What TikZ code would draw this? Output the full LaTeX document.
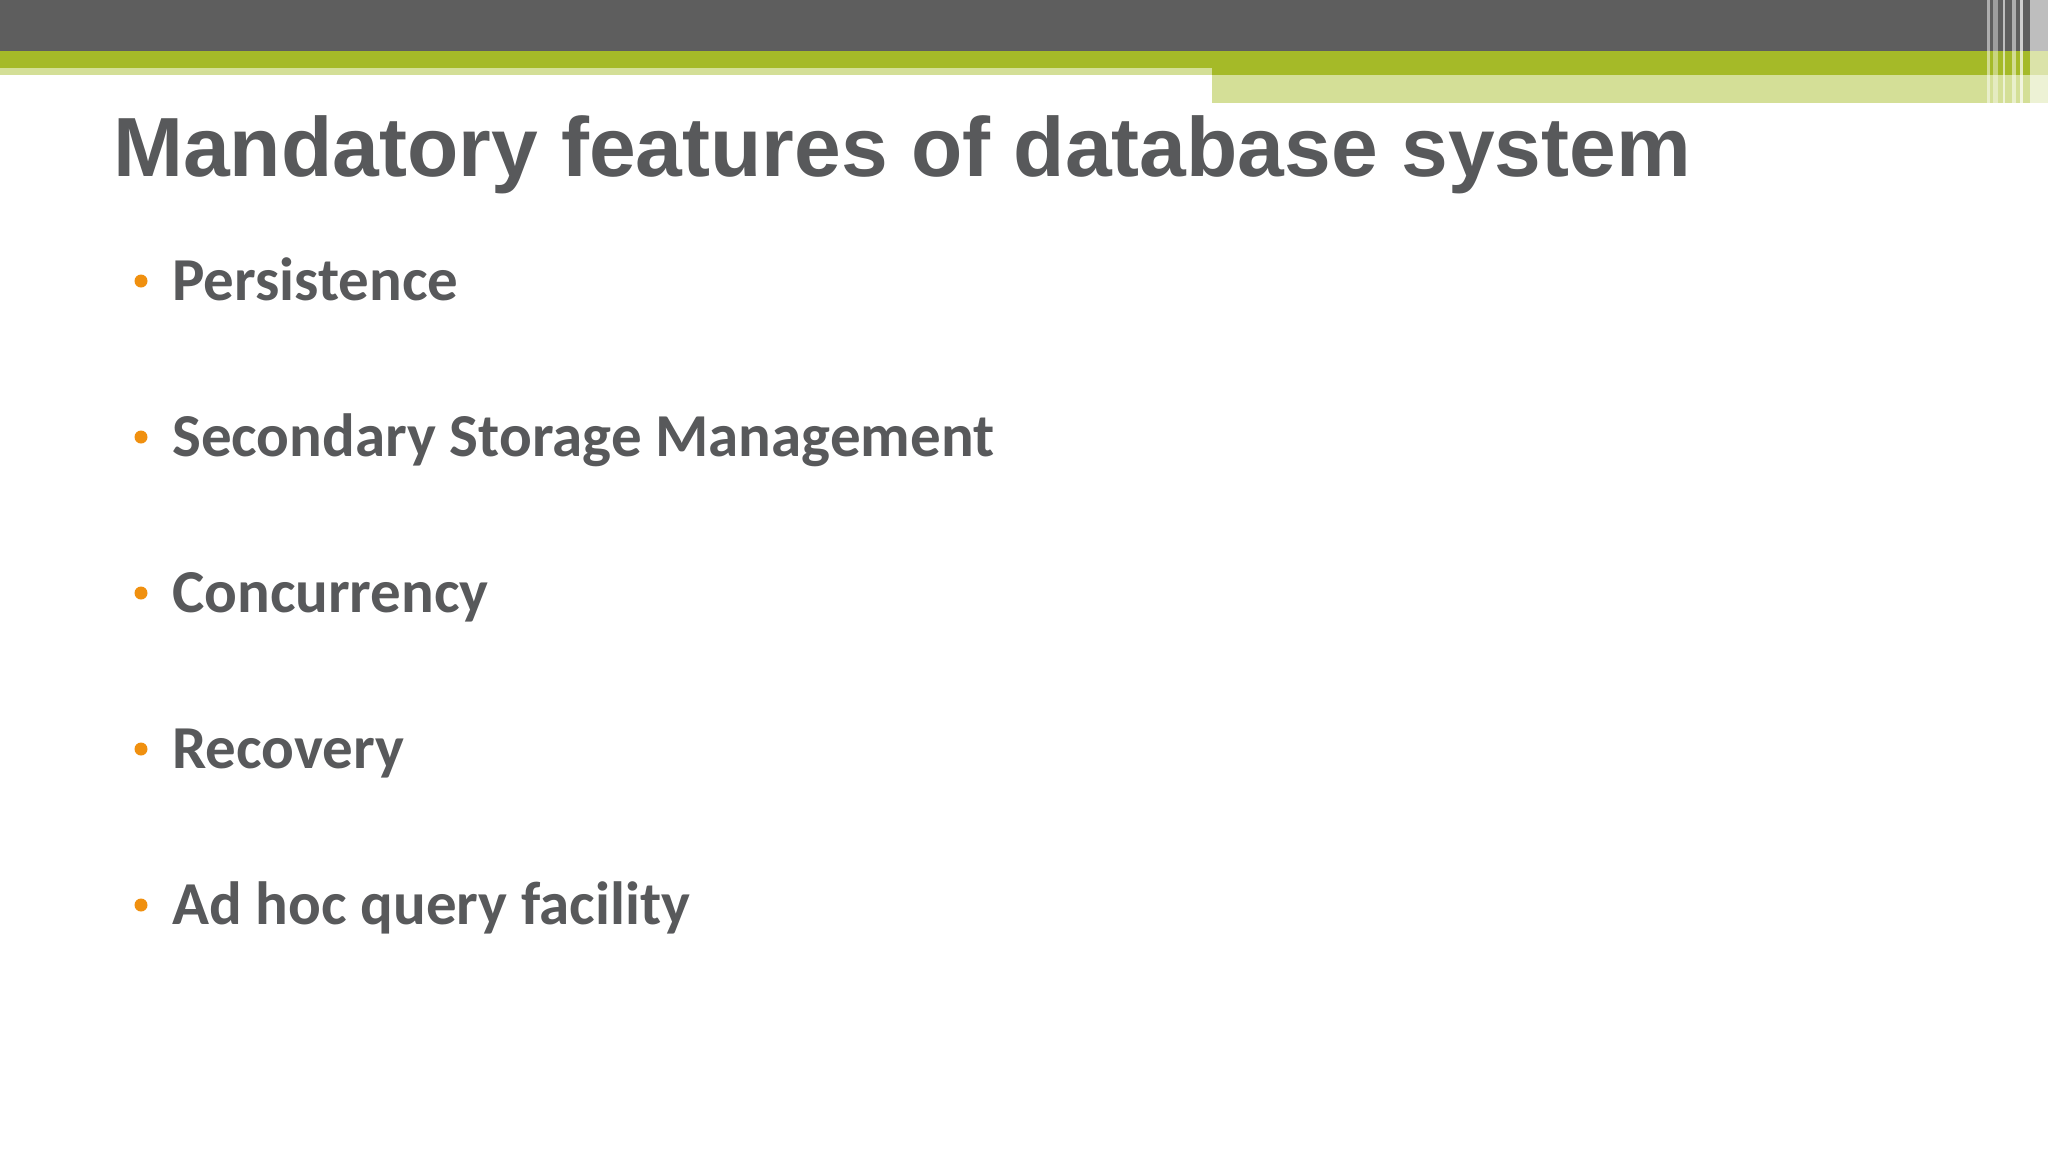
\documentclass[tikz,border=0pt]{standalone}
\usepackage{fontspec}
\setmainfont{Carlito}
\newfontfamily\titlefont{Liberation Sans}
\definecolor{dk}{HTML}{5E5E5E}
\definecolor{txt}{HTML}{58595B}
\definecolor{gr}{HTML}{A5BA28}
\definecolor{lg}{HTML}{D4DF97}
\definecolor{org}{HTML}{F0900F}
\begin{document}
\begin{tikzpicture}[x=1pt,y=-1pt,
  item/.style={anchor=base west,text=txt,font=\fontsize{61}{70}\selectfont\bfseries,inner sep=0},
  dot/.style={circle,fill=org,inner sep=0,minimum size=13}]
\useasboundingbox (0,0) rectangle (2048,1152);
\fill[white] (0,0) rectangle (2048,1152);
\fill[dk] (0,0) rectangle (2048,51);
\fill[gr] (0,51) rectangle (2048,68);
\fill[lg] (0,68) rectangle (1212,75);
\fill[gr] (1212,68) rectangle (2048,75);
\fill[lg] (1212,75) rectangle (2048,103);
\foreach \x/\w/\o in {1987/3/0.5,1993/5/0.4,2003/2/0.6,2012/4/0.5,2020/3/0.7,2030/18/0.6}
  \fill[white,opacity=\o] (\x,0) rectangle ++(\w,103);
\node[anchor=base west,inner sep=0,text=txt,font=\titlefont\fontsize{84}{96}\selectfont\bfseries] (title) at (113,176) {Mandatory features of database system};
\foreach \y/\t/\n in {300/Persistence/a,456/Secondary Storage Management/b,612/Concurrency/c,768/Recovery/d,924/Ad hoc query facility/e}{
  \node[item] (\n) at (172,\y) {\t};
  \node[dot] (d\n) at (141,\y-19) {};
}
\end{tikzpicture}
\end{document}
